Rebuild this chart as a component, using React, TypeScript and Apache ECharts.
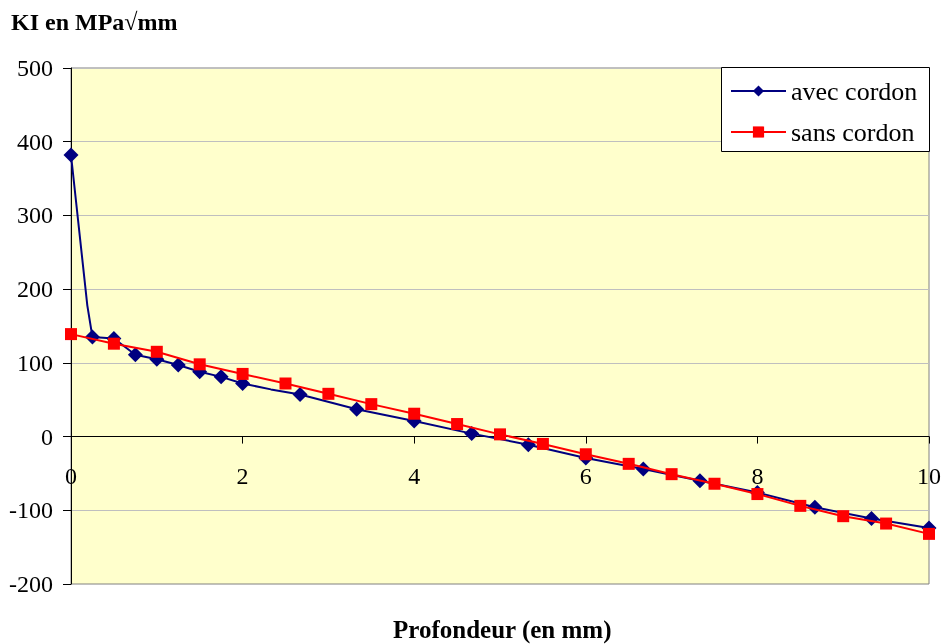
import React, { useEffect, useRef } from 'react';
import * as echarts from 'echarts';

const avecDepth = [0, 0.19, 0.25, 0.5, 0.75, 1, 1.25, 1.5, 1.75, 2, 2.33, 2.67, 3.33, 4, 4.67, 5.33, 6, 6.67, 7.33, 8, 8.67, 9.33, 10];
const avecKI = [382, 178, 135, 133, 111, 105, 97, 88, 81, 72, 64, 57, 37, 21, 4, -11, -29, -44, -60, -76, -96, -111, -124];
const avecMarked = [true, false, true, true, true, true, true, true, true, true, false, true, true, true, true, true, true, true, true, true, true, true, true];

const sansDepth = [0, 0.5, 1, 1.5, 2, 2.5, 3, 3.5, 4, 4.5, 5, 5.5, 6, 6.5, 7, 7.5, 8, 8.5, 9, 9.5, 10];
const sansKI = [139, 126, 115, 98, 85, 72, 58, 44, 31, 17, 3, -10, -24, -37, -51, -64, -78, -94, -108, -118, -132];

const seriesNames = ['avec cordon', 'sans cordon'];
const yTitle = 'KI en MPa√mm';
const xTitle = 'Profondeur (en mm)';

const Y_MIN = -200;
const Y_MAX = 500;

const FONT = '"Liberation Serif", "Times New Roman", serif';

export default function App() {
  const ref = useRef<HTMLDivElement>(null);
  useEffect(() => {
    if (!ref.current) return;
    const chart = echarts.init(ref.current, null, { renderer: 'svg' });
    const gridTop = 68;
    const gridBottom = 60;
    const gridHeight = 644 - gridTop - gridBottom;
    const zeroOffset = -gridHeight * (0 - Y_MIN) / (Y_MAX - Y_MIN);
    const avecData = avecDepth.map((x, i) =>
      avecMarked[i] ? { value: [x, avecKI[i]] } : { value: [x, avecKI[i]], symbol: 'none' }
    );
    const sansData = sansDepth.map((x, i) => [x, sansKI[i]]);
    chart.setOption({
      animation: false,
      grid: {
        left: 71,
        right: 15,
        top: gridTop,
        bottom: gridBottom,
        show: true,
        backgroundColor: '#FFFFCC',
        borderColor: '#808080',
        borderWidth: 1,
        containLabel: false,
        outerBoundsMode: 'none',
      },
      xAxis: {
        type: 'value',
        min: 0,
        max: 10,
        interval: 2,
        offset: zeroOffset,
        axisLine: { show: true, onZero: false, lineStyle: { color: '#000', width: 1 } },
        axisTick: { show: true, inside: false, length: 7, lineStyle: { color: '#000' } },
        axisLabel: { fontFamily: FONT, fontSize: 24, color: '#000', margin: 27 },
        splitLine: { show: false },
      },
      yAxis: {
        type: 'value',
        min: Y_MIN,
        max: Y_MAX,
        interval: 100,
        axisLine: { show: true, onZero: false, lineStyle: { color: '#000', width: 1 } },
        axisTick: { show: true, inside: false, length: 8, lineStyle: { color: '#000' } },
        axisLabel: { fontFamily: FONT, fontSize: 24, color: '#000', margin: 18 },
        splitLine: { show: true, lineStyle: { color: '#BFBFBF', width: 1 } },
      },
      legend: {
        orient: 'vertical',
        left: 730,
        top: 78,
        z: 10,
        itemWidth: 55,
        itemHeight: 14,
        itemGap: 15,
        padding: 0,
        data: seriesNames,
        textStyle: { fontFamily: FONT, fontSize: 26, color: '#000', lineHeight: 24 },
      },
      graphic: [
        {
          type: 'rect',
          left: 721,
          top: 67,
          z: 3,
          shape: { width: 208, height: 84 },
          style: { fill: '#fff', stroke: '#000', lineWidth: 1 },
        },
        {
          type: 'text',
          left: 11,
          top: 10,
          style: { text: yTitle, font: `bold 24px ${FONT}`, fill: '#000' },
        },
        {
          type: 'text',
          left: 393,
          top: 617,
          style: { text: xTitle, font: `bold 25px ${FONT}`, fill: '#000' },
        },
      ],
      series: [
        {
          name: seriesNames[0],
          type: 'line',
          data: avecData,
          symbol: 'diamond',
          symbolSize: 15,
          showAllSymbol: true,
          lineStyle: { color: '#000080', width: 2 },
          itemStyle: { color: '#000080' },
          z: 2,
        },
        {
          name: seriesNames[1],
          type: 'line',
          data: sansData,
          symbol: 'rect',
          symbolSize: 12,
          showAllSymbol: true,
          lineStyle: { color: '#FF0000', width: 2 },
          itemStyle: { color: '#FF0000' },
          z: 3,
        },
      ],
    });
    return () => chart.dispose();
  }, []);
  return (
    <div
      ref={ref}
      style={{ position: 'fixed', left: 0, top: 0, width: 944, height: 644 }}
    />
  );
}
